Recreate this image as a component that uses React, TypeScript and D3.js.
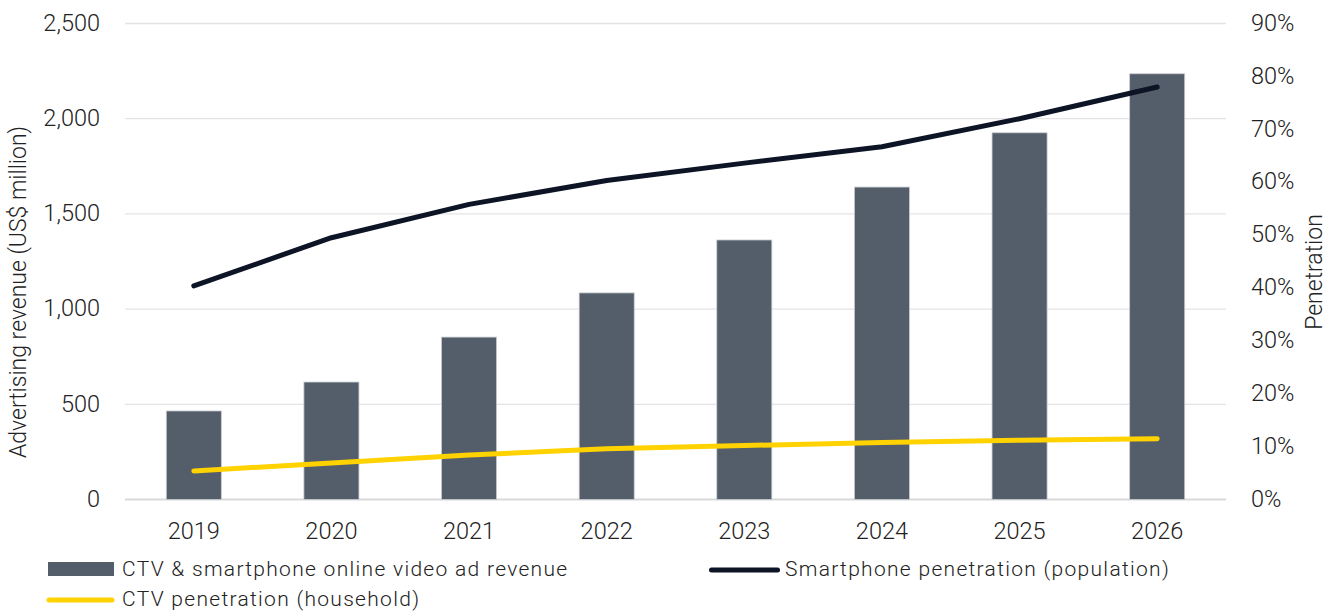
import React from "react";
import * as d3 from "d3";

const years = ["2019", "2020", "2021", "2022", "2023", "2024", "2025", "2026"];
const adRevenue = [465, 617, 853, 1085, 1363, 1641, 1926, 2236];
const smartphonePen = [0.404, 0.495, 0.558, 0.603, 0.636, 0.667, 0.72, 0.78];
const ctvPen = [0.054, 0.069, 0.084, 0.096, 0.102, 0.108, 0.112, 0.115];
const leftTicks = [0, 500, 1000, 1500, 2000, 2500];
const rightTicks = [0, 0.1, 0.2, 0.3, 0.4, 0.5, 0.6, 0.7, 0.8, 0.9];

const W = 1338;
const H = 612;
const FONT = "Roboto, 'Open Sans', sans-serif";
const TXT = "#222222";
const TICK_FS = 23.5;
const TITLE_FS = 23;
const LEG_FS = 21;

export default function App() {
  const x0 = 125, x1 = 1226, yTop = 23.5, yBot = 499.5;
  const x = d3.scaleBand().domain(years).range([x0, x1]).paddingInner(0.6).paddingOuter(0.3);
  const yL = d3.scaleLinear().domain([0, 2500]).range([yBot, yTop]);
  const yR = d3.scaleLinear().domain([0, 0.9]).range([yBot, yTop]);
  const cx = (yr: string) => (x(yr) as number) + x.bandwidth() / 2;
  const line = d3.line<number>().x((_, i) => cx(years[i])).y((d) => yR(d));
  const fmt = d3.format(",");
  const pct = d3.format(".0%");

  return (
    <svg width={W} height={H} style={{ position: "absolute", left: 0, top: 0, background: "#fff" }} fontFamily={FONT} fontWeight={300}>
      {leftTicks.map((t) => (
        <line key={"g" + t} x1={x0} x2={x1} y1={yL(t)} y2={yL(t)} stroke={t === 0 ? "#d9d9d9" : "#e4e4e4"} strokeWidth={t === 0 ? 2 : 1.3} />
      ))}
      {leftTicks.map((t) => (
        <text key={"l" + t} x={100} y={yL(t) - 1} dy="0.35em" textAnchor="end" fontSize={TICK_FS} fill={TXT}>
          {fmt(t)}
        </text>
      ))}
      {rightTicks.map((t) => (
        <text key={"r" + t} x={1251} y={yR(t) - 1} dy="0.35em" textAnchor="start" fontSize={TICK_FS} fill={TXT}>
          {pct(t)}
        </text>
      ))}
      <text transform={`translate(26,292) rotate(-90)`} textAnchor="middle" fontSize={TITLE_FS} fill={TXT}>
        Advertising revenue (US$ million)
      </text>
      <text transform={`translate(1322,272) rotate(-90)`} textAnchor="middle" fontSize={TITLE_FS} fill={TXT}>
        Penetration
      </text>
      {years.map((yr, i) => (
        <rect key={"b" + yr} x={x(yr)} y={yL(adRevenue[i])} width={x.bandwidth()} height={yBot - yL(adRevenue[i])} fill="#545e6a" stroke="#c8ccd1" strokeWidth={0.8} />
      ))}
      {years.map((yr) => (
        <text key={"x" + yr} x={cx(yr)} y={530.5} dy="0.35em" textAnchor="middle" fontSize={TICK_FS} fill={TXT}>
          {yr}
        </text>
      ))}
      <path d={line(ctvPen) || ""} fill="none" stroke="#ffd200" strokeWidth={5} strokeLinecap="round" strokeLinejoin="round" />
      <path d={line(smartphonePen) || ""} fill="none" stroke="#0c1426" strokeWidth={5} strokeLinecap="round" strokeLinejoin="round" />
      {/* legend */}
      <rect x={48} y={562} width={66} height={14} fill="#545e6a" />
      <text x={122} y={569} dy="0.35em" fontSize={LEG_FS} letterSpacing={1.3} fill={TXT}>CTV &amp; smartphone online video ad revenue</text>
      <line x1={711.5} x2={777.5} y1={570} y2={570} stroke="#0c1426" strokeWidth={5} strokeLinecap="round" />
      <text x={785} y={569} dy="0.35em" fontSize={LEG_FS} letterSpacing={1.3} fill={TXT}>Smartphone penetration (population)</text>
      <line x1={49} x2={112} y1={600} y2={600} stroke="#ffd200" strokeWidth={5} strokeLinecap="round" />
      <text x={122} y={599} dy="0.35em" fontSize={LEG_FS} letterSpacing={1.3} fill={TXT}>CTV penetration (household)</text>
    </svg>
  );
}
